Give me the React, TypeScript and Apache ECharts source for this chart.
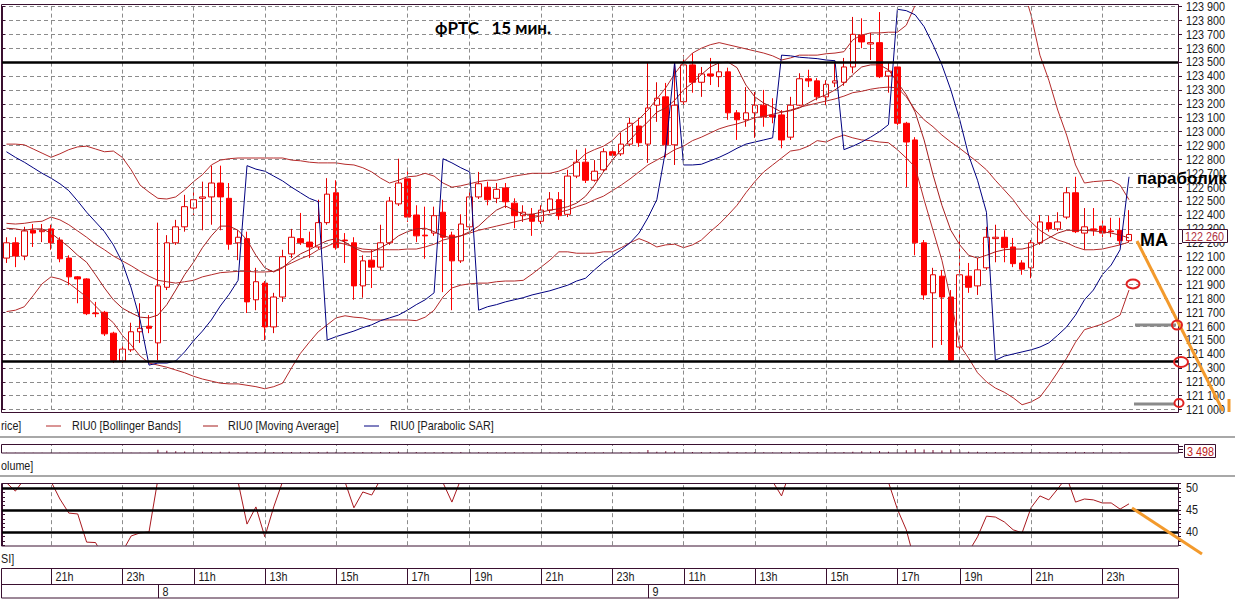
import React, { useEffect, useRef } from "react";
import * as echarts from "echarts";

// ---------- categories (15-minute bars, "day hh:mm") ----------
const times: string[] = [
  "7 19:45","7 20:00","7 20:15","7 20:30","7 20:45","7 21:00","7 21:15","7 21:30","7 21:45","7 22:00",
  "7 22:15","7 22:30","7 22:45","7 23:00","7 23:15","7 23:30","7 23:45","8 10:00","8 10:15","8 10:30",
  "8 10:45","8 11:00","8 11:15","8 11:30","8 11:45","8 12:00","8 12:15","8 12:30","8 12:45","8 13:00",
  "8 13:15","8 13:30","8 13:45","8 14:00","8 14:15","8 14:30","8 14:45","8 15:00","8 15:15","8 15:30",
  "8 15:45","8 16:00","8 16:15","8 16:30","8 16:45","8 17:00","8 17:15","8 17:30","8 17:45","8 18:00",
  "8 18:15","8 18:30","8 19:00","8 19:15","8 19:30","8 19:45","8 20:00","8 20:15","8 20:30","8 20:45",
  "8 21:00","8 21:15","8 21:30","8 21:45","8 22:00","8 22:15","8 22:30","8 22:45","8 23:00","8 23:15",
  "8 23:30","8 23:45","9 10:00","9 10:15","9 10:30","9 10:45","9 11:00","9 11:15","9 11:30","9 11:45",
  "9 12:00","9 12:15","9 12:30","9 12:45","9 13:00","9 13:15","9 13:30","9 13:45","9 14:00","9 14:15",
  "9 14:30","9 14:45","9 15:00","9 15:15","9 15:30","9 15:45","9 16:00","9 16:15","9 16:30","9 16:45",
  "9 17:00","9 17:15","9 17:30","9 17:45","9 18:00","9 18:15","9 18:30","9 19:00","9 19:15","9 19:30",
  "9 19:45","9 20:00","9 20:15","9 20:30","9 20:45","9 21:00","9 21:15","9 21:30","9 21:45","9 22:00",
  "9 22:15","9 22:30","9 22:45","9 23:00","9 23:15","9 23:30","9 23:45","10 10:00","10 10:15","10 10:30",
  "10 10:45","10 11:00"
];

// ---------- candles ----------
const opens = [
  122090,122200,122105,122290,122280,122300,122220,122090,121955,121940,
  121695,121700,121550,121350,121430,121560,121600,121480,121880,122200,
  122315,122450,122520,122530,122630,122520,122200,122230,121790,121910,
  121595,121810,122120,122230,122205,122170,122345,122560,122220,122200,
  121890,122075,122025,122200,122480,122660,122400,122255,122270,122420,
  122255,122070,122315,122530,122600,122520,122595,122485,122395,122405,
  122355,122435,122510,122405,122680,122780,122650,122725,122855,122840,
  122910,123040,122910,123190,123250,122905,123215,123480,123355,123415,
  123395,123430,123135,123085,123135,123190,123120,123120,122960,123190,
  123380,123365,123250,123350,123355,123465,123695,123630,123640,123400,
  123465,123060,122940,122200,121840,121960,121810,121450,121960,121890,
  122020,122230,122240,122170,122055,122020,122200,122345,122300,122385,
  122560,122270,122300,122320,122285,122290,122215
];
const closes = [
  122200,122105,122285,122270,122290,122200,122085,121955,121940,121690,
  121690,121545,121355,121435,121560,121585,121585,121890,122200,122315,
  122460,122510,122530,122630,122530,122190,122240,121775,121920,121595,
  121810,122100,122240,122200,122170,122345,122550,122165,122215,121890,
  122070,122025,122200,122500,122630,122385,122250,122250,122395,122240,
  122070,122335,122530,122625,122510,122585,122495,122395,122420,122355,
  122435,122515,122395,122680,122780,122650,122715,122855,122830,122910,
  123060,122920,123170,123240,122905,123190,123480,123355,123415,123400,
  123430,123135,123085,123135,123190,123105,123105,122940,123190,123380,
  123365,123250,123340,123365,123465,123700,123645,123640,123395,123435,
  123060,122925,122200,121825,121970,121810,121355,121970,121880,122005,
  122240,122240,122165,122050,122010,122200,122350,122300,122350,122560,
  122280,122315,122290,122270,122280,122215,122260
];
const lows = [
  122055,122025,122075,122170,122205,122150,122060,121895,121765,121680,
  121665,121530,121335,121335,121415,121480,121550,121355,121860,122185,
  122280,122400,122290,122330,122290,122150,122075,121695,121715,121500,
  121550,121775,122090,122185,122090,122155,122330,122150,122055,121790,
  121805,121875,122005,122185,122465,122350,122205,122085,122250,121845,
  121715,122055,122290,122515,122470,122485,122450,122305,122350,122250,
  122335,122415,122365,122385,122665,122630,122640,122710,122815,122825,
  122895,122890,122775,123070,122815,122760,123175,123280,123250,123335,
  123320,123085,122940,123035,122955,123035,123060,122880,122940,123185,
  123320,123225,123190,123320,123330,123420,123600,123515,123385,123280,
  123045,122600,122110,121790,121445,121465,121340,121430,121840,121825,
  122005,122060,122060,122025,121970,121945,122185,122280,122285,122370,
  122270,122150,122250,122240,122240,122185,122205
];
const highs = [
  122240,122240,122315,122335,122335,122330,122240,122110,121960,121945,
  121775,121710,121560,121480,121625,121765,121680,122345,122255,122365,
  122545,122595,122640,122755,122755,122630,122290,122280,122020,121925,
  121840,122150,122300,122415,122280,122510,122665,122650,122270,122240,
  122110,122150,122330,122530,122805,122740,122470,122460,122460,122510,
  122280,122405,122580,122710,122640,122630,122630,122520,122470,122450,
  122470,122565,122565,122725,122870,122880,122795,122880,122880,122990,
  123100,123100,123500,123355,123350,123500,123550,123565,123465,123530,
  123495,123460,123155,123320,123285,123300,123240,123155,123250,123420,
  123445,123385,123370,123500,123530,123825,123815,123710,123860,123495,
  123480,123070,122960,122220,122020,122005,121860,122290,122055,122090,
  122315,122330,122290,122235,122075,122220,122400,122395,122420,122600,
  122675,122450,122450,122385,122380,122380,122435
];

// ---------- indicators ----------
const bbUpper = [
  122910,122910,122905,122875,122845,122815,122840,122870,122890,122895,
  122875,122855,122860,122815,122725,122615,122565,122520,122515,122530,
  122580,122640,122690,122760,122795,122805,122810,122810,122810,122810,
  122810,122810,122795,122790,122780,122775,122775,122775,122765,122760,
  122740,122710,122665,122630,122650,122675,122680,122700,122680,122630,
  122600,122610,122625,122640,122650,122650,122665,122680,122690,122700,
  122700,122700,122715,122740,122780,122840,122870,122895,122935,123000,
  123040,123090,123155,123235,123315,123415,123500,123565,123600,123625,
  123640,123625,123610,123595,123580,123565,123545,123515,123530,123550,
  123550,123550,123560,123565,123575,123660,123695,123710,123710,123715,
  123715,123765,123910,124165,124305,124450,124595,124665,124665,124665,
  124595,124485,124380,124235,124055,123840,123550,123370,123155,122975,
  122760,122630,122640,122645,122650,122615,122510
];
const bbMiddle = [
  122340,122335,122340,122350,122355,122385,122365,122330,122285,122240,
  122190,122150,122105,122070,122035,121995,121960,121930,121920,121910,
  121920,121930,121955,121970,121985,121990,121995,121995,121990,121990,
  121995,122025,122055,122085,122110,122150,122175,122205,122190,122170,
  122155,122150,122150,122150,122150,122155,122155,122170,122190,122220,
  122235,122250,122270,122290,122305,122320,122335,122350,122365,122380,
  122395,122405,122420,122435,122460,122480,122510,122535,122575,122615,
  122660,122710,122760,122795,122830,122870,122895,122935,122960,122990,
  123020,123040,123055,123075,123100,123110,123125,123140,123155,123175,
  123190,123205,123220,123235,123255,123280,123290,123305,123315,123320,
  123315,123250,123155,123085,123035,122975,122925,122880,122830,122780,
  122725,122650,122580,122510,122420,122350,122290,122250,122220,122200,
  122170,122150,122150,122155,122170,122185,122205
];
const bbLower = [
  121705,121715,121740,121820,121905,121955,121940,121910,121860,121810,
  121745,121680,121625,121535,121465,121385,121335,121320,121305,121285,
  121265,121240,121220,121205,121190,121185,121185,121175,121165,121150,
  121165,121190,121300,121405,121485,121560,121610,121660,121675,121665,
  121660,121645,121645,121645,121645,121645,121640,121665,121715,121810,
  121875,121895,121905,121910,121910,121920,121925,121925,121930,121975,
  122025,122075,122135,122135,122125,122125,122125,122135,122135,122165,
  122200,122230,122205,122170,122185,122190,122165,122185,122220,122280,
  122335,122400,122470,122560,122640,122710,122760,122810,122860,122870,
  122895,122935,122925,122955,122975,122955,122940,122935,122925,122920,
  122870,122810,122745,122510,122290,122075,121790,121465,121370,121265,
  121200,121155,121125,121085,121035,121055,121090,121175,121270,121370,
  121485,121575,121595,121615,121645,121680,121860
];
const maLine = [
  122305,122300,122290,122300,122300,122270,122220,122170,122110,122060,
  121970,121875,121790,121730,121695,121665,121660,121680,121755,121860,
  121970,122060,122165,122250,122320,122320,122290,122220,122110,122020,
  121990,122020,122075,122120,122150,122185,122215,122230,122205,122165,
  122135,122135,122165,122200,122250,122280,122300,122305,122280,122250,
  122235,122250,122280,122320,122380,122435,122465,122435,122405,122405,
  122420,122435,122445,122460,122485,122535,122615,122710,122795,122870,
  122940,123010,123070,123140,123170,123225,123300,123350,123410,123465,
  123495,123500,123460,123335,123250,123205,123175,123140,123150,123170,
  123205,123240,123265,123300,123345,123410,123465,123480,123480,123445,
  123355,123265,123140,122940,122690,122470,122290,122185,122110,122090,
  122110,122135,122150,122155,122155,122170,122200,122235,122270,122290,
  122290,122290,122285,122280,122270,122255,122235
];
const sar = [
  122855,122815,122780,122740,122700,122665,122625,122575,122500,122420,
  122350,122280,122185,122060,121875,121645,121320,121335,121335,121350,
  121415,121495,121565,121645,121745,121830,121930,122755,122730,122715,
  122680,122645,122600,122560,122520,122495,121500,121525,121545,121565,
  121590,121610,121640,121660,121680,121715,121755,121790,121840,122805,
  122775,122740,122710,121715,121740,121755,121775,121790,121805,121825,
  121840,121855,121875,121895,121925,121945,122005,122060,122105,122150,
  122200,122270,122380,122510,122870,123500,122760,122760,122765,122790,
  122815,122845,122880,122910,122925,122940,122955,123550,123545,123535,
  123530,123525,123515,123510,122870,122895,122925,122960,123000,123050,
  123880,123870,123840,123755,123625,123480,123300,123085,122830,122650,
  122420,121355,121385,121400,121415,121430,121450,121480,121535,121595,
  121680,121790,121860,121970,122040,122150,122675
];
const volume = [
  1500,1200,1400,1300,1500,1800,1600,1700,1900,2100,
  1800,2000,2400,1900,1700,1500,1400,22000,15000,12000,
  10000,9000,8000,7000,9000,8000,6000,9000,7000,8000,
  7000,6000,6000,5000,6000,7000,8000,9000,6000,7000,
  6000,5000,6000,7000,8000,9000,6000,5000,5000,6000,
  7000,6000,6000,5000,5000,4000,5000,5000,4000,4000,
  5000,4000,4000,6000,6000,5000,4000,5000,4000,5000,
  6000,4000,20000,9000,12000,10000,9000,7000,6000,6000,
  5000,8000,6000,5000,6000,5000,4000,7000,6000,7000,
  5000,5000,4000,5000,6000,9000,12000,9000,14000,9000,
  22000,18000,26000,24000,20000,16000,22000,18000,9000,8000,
  7000,6000,6000,5000,6000,7000,6000,5000,5000,7000,
  8000,6000,5000,5000,4000,5000,3498
];
const rsi = [
  51.2,49.3,52,54,53,51.5,47.5,44.3,44.1,37.7,
  37.6,34,33,35.5,39.1,39.8,40,52,56,58,
  60,61,61,62,60,55,51.4,41.8,45.7,38.9,
  45.7,51.5,54,54,53,56,59,52,51.4,45.5,
  49.1,48.4,52,56,59,55,53,53,54,51.2,
  46.8,52,56,58,57,58,56,54,55,54,
  55,57,54,59,61,58,59,62,61,63,
  65,62,66,67,58,63,66,63,64,63,
  64,57,55,57,58,55,51.5,48.2,54,58,
  57,54,56,56,58,63,61,61,53,51.3,
  45.2,40.5,33,30,33,31,26,34,35.5,38.9,
  43.6,43.4,42.3,40.5,39.8,45.5,48.2,47.3,49.8,52.5,
  46.8,47.5,47.3,46.6,46.6,45.2,46.4
];
const priceLevels = [123500, 121350];
const rsiLevels = [50, 45, 40];
const priceTicks = { min: 121000, max: 123900, step: 100 };
const rsiTicks = { min: 37, max: 51, step: 1, labelEvery: 5 };
const lastPriceLabel = "122 260";
const lastVolumeLabel = "3 498";

// ---------- styling ----------
const FONT = "'Liberation Sans', Arial, sans-serif";
const SX = 0.83; // narrow-looking text
const AX = "#3a1030";
const DASH = "#8c8c8c";
const BB = "#b42a2a";
const MAC = "#a51c1c";
const ORANGE = "#f39a2c";
const TXT = "#1a1a1a";

const fmtPrice = (v: number) => String(v).replace(/\B(?=(\d{3})+(?!\d))/g, " ");

function hourIndices(n: number) {
  return times
    .map((_, i) => i)
    .filter((i) => {
      if (i >= n) return false;
      const hm = times[i].split(" ")[1];
      return hm.endsWith(":00") && parseInt(hm, 10) % 2 === 1;
    });
}
function dayStartIndices(n: number) {
  return times
    .map((_, i) => i)
    .filter((i) => i > 0 && i < n && times[i].split(" ")[0] !== times[i - 1].split(" ")[0]);
}

function buildOption() {
  const n = opens.length;
  const candle = opens.map((o, i) => [o, closes[i], lows[i], highs[i]]);
  const hIdx = hourIndices(n);
  const vMark = () => ({
    silent: true,
    symbol: ["none", "none"],
    label: { show: false },
    lineStyle: { color: DASH, type: [4, 3], width: 1 },
    data: hIdx.map((i) => ({ xAxis: times[i] })),
  });
  const hideX = {
    type: "category" as const,
    data: times,
    boundaryGap: true,
    axisLine: { show: false },
    axisTick: { show: false },
    axisLabel: { show: false },
    splitLine: { show: false },
  };
  const line = (name: string, data: number[], color: string) => ({
    name,
    type: "line",
    xAxisIndex: 0,
    yAxisIndex: 0,
    data,
    symbol: "none",
    lineStyle: { color, width: 1 },
    z: 4,
    clip: true,
  });
  return {
    animation: false,
    backgroundColor: "#ffffff",
    grid: [
      { left: 2, top: 6.5, width: 1176, height: 403.1 },
      { left: 2, top: 444, width: 1176, height: 9 },
      { left: 2, top: 483.6, width: 1176, height: 61.6 },
    ],
    xAxis: [
      { ...hideX, gridIndex: 0 },
      { ...hideX, gridIndex: 1 },
      { ...hideX, gridIndex: 2 },
    ],
    yAxis: [
      {
        gridIndex: 0,
        type: "value",
        position: "right",
        min: priceTicks.min,
        max: priceTicks.max,
        interval: priceTicks.step,
        axisLine: { show: true, lineStyle: { color: AX } },
        axisTick: { show: true, length: 4, lineStyle: { color: AX } },
        axisLabel: { show: false },
        splitLine: { show: true, lineStyle: { color: DASH, type: [4, 3], width: 1 } },
      },
      {
        gridIndex: 0,
        type: "value",
        position: "left",
        min: priceTicks.min,
        max: priceTicks.max,
        interval: priceTicks.step,
        axisLine: { show: true, lineStyle: { color: AX } },
        axisTick: { show: true, inside: true, length: 3, lineStyle: { color: AX } },
        axisLabel: { show: false },
        splitLine: { show: false },
      },
      {
        gridIndex: 1,
        type: "value",
        position: "right",
        min: 0,
        max: 60000,
        axisLine: { show: false },
        axisTick: { show: false },
        axisLabel: { show: false },
        splitLine: { show: false },
      },
      {
        gridIndex: 2,
        type: "value",
        position: "right",
        min: rsiTicks.min,
        max: rsiTicks.max,
        interval: rsiTicks.step,
        axisLine: { show: true, lineStyle: { color: AX } },
        axisTick: { show: true, length: 3, lineStyle: { color: AX } },
        axisLabel: { show: false },
        splitLine: { show: false },
      },
      {
        gridIndex: 2,
        type: "value",
        position: "left",
        min: rsiTicks.min,
        max: rsiTicks.max,
        interval: rsiTicks.step,
        axisLine: { show: true, lineStyle: { color: AX } },
        axisTick: { show: true, inside: true, length: 3, lineStyle: { color: AX } },
        axisLabel: { show: false },
        splitLine: { show: false },
      },
    ],
    series: [
      {
        name: "grid-main",
        type: "line",
        xAxisIndex: 0,
        yAxisIndex: 0,
        data: [],
        z: 1,
        markLine: vMark(),
      },
      {
        name: "Price",
        type: "candlestick",
        xAxisIndex: 0,
        yAxisIndex: 0,
        data: candle,
        barWidth: 6,
        z: 3,
        itemStyle: {
          color: "#ffffff",
          color0: "#ff0000",
          borderColor: "#e00000",
          borderColor0: "#ff0000",
          borderWidth: 1,
        },
      },
      line("Bollinger Upper", bbUpper, BB),
      line("Bollinger Middle", bbMiddle, BB),
      line("Bollinger Lower", bbLower, BB),
      line("Moving Average", maLine, MAC),
      line("Parabolic SAR", sar, "#000080"),
      {
        name: "levels",
        type: "line",
        xAxisIndex: 0,
        yAxisIndex: 0,
        data: [],
        z: 6,
        markLine: {
          silent: true,
          symbol: ["none", "none"],
          label: { show: false },
          lineStyle: { color: "#000000", type: "solid", width: 2.5 },
          data: priceLevels.map((v) => ({ yAxis: v })),
        },
      },
      {
        name: "Volume",
        type: "bar",
        xAxisIndex: 1,
        yAxisIndex: 2,
        data: volume,
        barWidth: 1,
        itemStyle: { color: "#7a1030" },
        markLine: vMark(),
      },
      {
        name: "rsi-grid",
        type: "line",
        xAxisIndex: 2,
        yAxisIndex: 3,
        data: [],
        z: 1,
        markLine: vMark(),
      },
      {
        name: "RSI",
        type: "line",
        xAxisIndex: 2,
        yAxisIndex: 3,
        data: rsi,
        symbol: "none",
        clip: true,
        lineStyle: { color: "#a8181e", width: 1 },
        z: 4,
      },
      {
        name: "rsi-levels",
        type: "line",
        xAxisIndex: 2,
        yAxisIndex: 3,
        data: [],
        z: 5,
        markLine: {
          silent: true,
          symbol: ["none", "none"],
          label: { show: false },
          lineStyle: { color: "#000000", type: "solid", width: 2.5 },
          data: rsiLevels.map((v) => ({ yAxis: v })),
        },
      },
    ],
  };
}

// narrow text: a 13px face squeezed horizontally like the terminal's font
const ntxt = (text: string, x: number, y: number, extra: any = {}) => ({
  type: "text",
  z: 100,
  x,
  y,
  scaleX: SX,
  style: {
    text,
    x: 0,
    y: 0,
    fill: TXT,
    font: `13px ${FONT}`,
    textVerticalAlign: "middle",
    ...extra,
  },
});
const txt = (text: string, x: number, y: number, extra: any = {}) => ({
  type: "text",
  z: 100,
  style: { text, x, y, fill: "#000", textVerticalAlign: "middle", ...extra },
});
const ln = (x1: number, y1: number, x2: number, y2: number, stroke: string, lineWidth = 1) => ({
  type: "line",
  z: 100,
  shape: { x1, y1, x2, y2 },
  style: { stroke, lineWidth },
});
const box = (x: number, y: number, w: number, h: number, stroke = AX, fill = "none") => ({
  type: "rect",
  z: 100,
  shape: { x, y, width: w, height: h },
  style: { stroke, fill, lineWidth: 1 },
});
const ring = (cx: number, cy: number, rx: number, ry: number) => ({
  type: "ellipse",
  z: 110,
  shape: { cx, cy, rx, ry },
  style: { stroke: "#e02020", fill: "none", lineWidth: 2 },
});

function staticGraphics() {
  return [
    box(1.5, 4.5, 1177, 408),
    ln(0, 437, 1235, 437, "#a8a8a8", 2),
    box(1.5, 444.5, 1177, 8.5),
    ln(0, 476, 1235, 476, "#a8a8a8", 2),
    box(1.5, 483.5, 1177, 62.5),
    box(1.5, 568.5, 1177, 29.5),
    ln(1.5, 584.5, 1178.5, 584.5, AX),
    // legend row (pane titles are cut at the left edge in the terminal)
    ntxt("rice]", 1, 426),
    ln(46, 426, 61, 426, BB),
    ntxt("RIU0 [Bollinger Bands]", 72, 426),
    ln(203, 426, 218, 426, MAC),
    ntxt("RIU0 [Moving Average]", 228, 426),
    ln(364, 426, 379, 426, "#000080"),
    ntxt("RIU0 [Parabolic SAR]", 390, 426),
    ntxt("olume]", 1, 466),
    ntxt("SI]", 1, 559),
    // volume value label
    ln(1179, 446.5, 1183, 446.5, AX),
    ln(1179, 449.5, 1183, 449.5, AX),
    ln(1179, 452.5, 1183, 452.5, AX),
    box(1184.5, 444.5, 31, 13, AX, "#ffffff"),
    ntxt(lastVolumeLabel, 1187, 451.5, { fill: "#c02020" }),
    // last price label
    box(1182.5, 229.5, 45, 13, AX, "#ffffff"),
    ntxt(lastPriceLabel, 1185, 236.5, { fill: "#b03040" }),
    // title & annotations
    txt("фРТС   15 мин.", 435, 27, { font: "bold 17px Lato, 'Open Sans', sans-serif" }),
    txt("параболик", 1137, 178, { font: "bold 17px 'Liberation Sans', Arial, sans-serif" }),
    txt("MA", 1140, 240, { font: "bold 18px 'Liberation Sans', Arial, sans-serif" }),
    ln(1135, 325, 1176, 325, "#8a8a8a", 3),
    ln(1134, 404, 1175, 404, "#8a8a8a", 3),
    ln(1137, 241, 1223, 411, ORANGE, 3),
    ln(1229, 399, 1229, 412, ORANGE, 3),
    ln(1132, 508, 1202, 554, ORANGE, 3),
    ring(1133, 284, 6.5, 4.5),
    ring(1177, 325, 5, 4.5),
    ring(1181, 362, 7, 5),
    ring(1179, 403, 4.5, 4),
  ];
}

export default function App() {
  const ref = useRef<HTMLDivElement>(null);
  useEffect(() => {
    if (!ref.current) return;
    const chart = echarts.init(ref.current, null, { renderer: "svg" });
    chart.setOption(buildOption() as any);
    const n = opens.length;
    const px = (i: number) => chart.convertToPixel({ xAxisIndex: 0 }, times[i]) as number;
    const dyn: any[] = [];
    // price axis labels
    for (let v = priceTicks.min; v <= priceTicks.max; v += priceTicks.step) {
      const y = chart.convertToPixel({ yAxisIndex: 0 }, v) as number;
      dyn.push(ntxt(fmtPrice(v), 1186, y));
    }
    // RSI axis labels
    for (let v = rsiTicks.min; v <= rsiTicks.max; v += rsiTicks.step) {
      if (v % rsiTicks.labelEvery !== 0) continue;
      const y = chart.convertToPixel({ yAxisIndex: 3 }, v) as number;
      dyn.push(ntxt(String(v), 1186, y));
    }
    // time axis
    hourIndices(n).forEach((i) => {
      const x = Math.round(px(i)) + 0.5;
      dyn.push(ln(x, 568.5, x, 584.5, AX));
      const h = parseInt(times[i].split(" ")[1], 10);
      dyn.push(ntxt(`${h}h`, x + 4, 577));
    });
    dayStartIndices(n).forEach((i) => {
      const x = Math.round(px(i)) + 0.5;
      dyn.push(ln(x, 584.5, x, 598, AX));
      dyn.push(ntxt(times[i].split(" ")[0], x + 4, 591.5));
    });
    // annotations last so they sit above the axis labels
    chart.setOption({ graphic: [...dyn, ...staticGraphics()] } as any);
    return () => chart.dispose();
  }, []);
  return (
    <div
      ref={ref}
      style={{ position: "fixed", left: 0, top: 0, width: 1235, height: 601, background: "#fff" }}
    />
  );
}
